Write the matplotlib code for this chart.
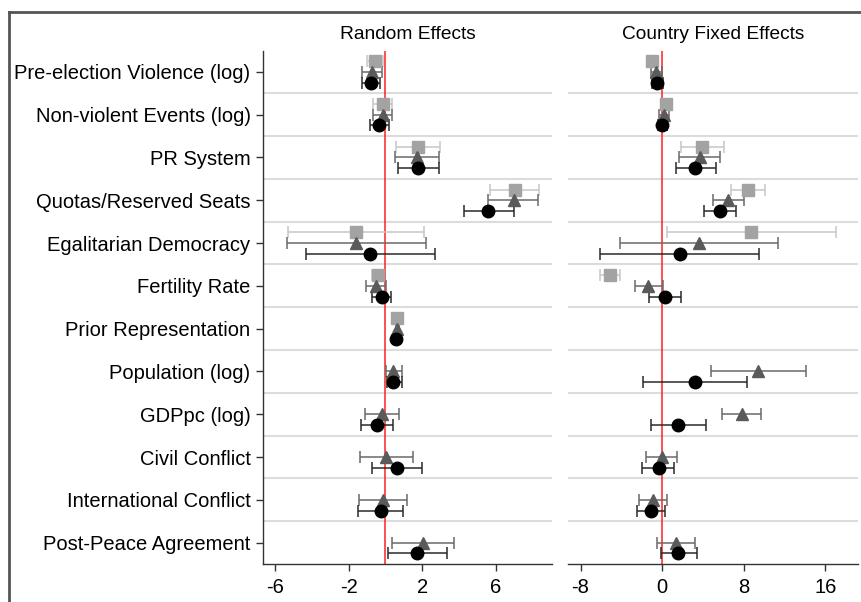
import numpy as np
import matplotlib
matplotlib.use("Agg")
import matplotlib.pyplot as plt
from matplotlib.lines import Line2D

plt.rcParams['font.family'] = ['Liberation Sans', 'DejaVu Sans']

nan = np.nan
categories = ["Pre-election Violence (log)", "Non-violent Events (log)", "PR System",
              "Quotas/Reserved Seats", "Egalitarian Democracy", "Fertility Rate",
              "Prior Representation", "Population (log)", "GDPpc (log)", "Civil Conflict",
              "International Conflict", "Post-Peace Agreement"]
panel_titles = ["Random Effects", "Country Fixed Effects"]

# Random effects
re_sq_est = [-0.56, -0.14, 1.76, 7.05, -1.59, -0.41, 0.65, nan, nan, nan, nan, nan]
re_sq_lo = [-1.01, -0.65, 0.56, 5.69, -5.30, -0.74, 0.56, nan, nan, nan, nan, nan]
re_sq_hi = [-0.11, 0.38, 2.97, 8.37, 2.12, -0.11, 0.74, nan, nan, nan, nan, nan]
re_tr_est = [-0.74, -0.14, 1.71, 6.96, -1.59, -0.52, 0.65, 0.40, -0.16, 0.04, -0.14, 2.03]
re_tr_lo = [-1.28, -0.69, 0.51, 5.60, -5.36, -1.05, 0.58, 0.02, -1.10, -1.38, -1.43, 0.38]
re_tr_hi = [-0.20, 0.38, 2.92, 8.28, 2.20, 0.04, 0.72, 0.89, 0.76, 1.52, 1.16, 3.73]
re_ci_est = [-0.78, -0.34, 1.79, 5.60, -0.83, -0.20, 0.58, 0.43, -0.47, 0.62, -0.25, 1.74]
re_ci_lo = [-1.28, -0.83, 0.67, 4.28, -4.33, -0.74, 0.50, 0.07, -1.34, -0.74, -1.50, 0.13]
re_ci_hi = [-0.29, 0.20, 2.92, 6.96, 2.70, 0.29, 0.66, 0.89, 0.43, 2.01, 0.98, 3.34]

# Country fixed effects
fe_sq_est = [-0.95, 0.36, 3.93, 8.39, 8.71, -5.14, nan, nan, nan, nan, nan, nan]
fe_sq_lo = [-1.38, -0.13, 1.80, 6.72, 0.43, -6.12, nan, nan, nan, nan, nan, nan]
fe_sq_hi = [-0.50, 0.85, 6.09, 10.06, 17.06, -4.09, nan, nan, nan, nan, nan, nan]
fe_tr_est = [-0.62, 0.20, 3.70, 6.48, 3.63, -1.37, nan, 9.43, 7.80, -0.06, -0.88, 1.35]
fe_tr_lo = [-1.14, -0.32, 1.67, 4.95, -4.16, -2.68, nan, 4.78, 5.86, -1.60, -2.29, -0.49]
fe_tr_hi = [-0.06, 0.69, 5.67, 8.05, 11.40, 0.04, nan, 14.09, 9.70, 1.47, 0.49, 3.21]
fe_ci_est = [-0.49, 0.00, 3.21, 5.67, 1.74, 0.27, nan, 3.21, 1.57, -0.35, -1.11, 1.57]
fe_ci_lo = [-0.98, -0.42, 1.32, 4.13, -6.05, -1.31, nan, -1.87, -1.14, -1.93, -2.42, -0.16]
fe_ci_hi = [0.04, 0.43, 5.25, 7.24, 9.50, 1.84, nan, 8.35, 4.26, 1.18, 0.27, 3.44]

re_ticks = [-6, -2, 2, 6]
fe_ticks = [-8, 0, 8, 16]

W, H = 862, 602
fig = plt.figure(figsize=(W / 100, H / 100), dpi=100)

bottom = (H - 564) / H
height = (564 - 50.5) / H
ax1 = fig.add_axes([263 / W, bottom, 289 / W, height])
ax2 = fig.add_axes([568 / W, bottom, 290 / W, height])

styles = [  # offset, marker, marker color, line color
    (-0.25, 's', '#a3a3a3', '#c6c6c6'),
    (0.0, '^', '#5a5a5a', '#6a6a6a'),
    (0.25, 'o', '#000000', '#2a2a2a'),
]

panels = [
    (ax1, [(re_sq_est, re_sq_lo, re_sq_hi), (re_tr_est, re_tr_lo, re_tr_hi), (re_ci_est, re_ci_lo, re_ci_hi)],
     (-6.65, 9.05), re_ticks),
    (ax2, [(fe_sq_est, fe_sq_lo, fe_sq_hi), (fe_tr_est, fe_tr_lo, fe_tr_hi), (fe_ci_est, fe_ci_lo, fe_ci_hi)],
     (-9.23, 19.2), fe_ticks),
]

n = len(categories)
ypos = np.arange(n)

for k, (ax, series, xlim, ticks) in enumerate(panels):
    for b in np.arange(0.5, n - 0.5, 1.0):
        ax.axhline(b, color='#dcdcdc', lw=1.5, zorder=1)
    ax.axvline(0, color='#ff2020', lw=1.1, zorder=2)
    for (est, lo, hi), (off, mk, mc, lc) in zip(series, styles):
        est = np.array(est); lo = np.array(lo); hi = np.array(hi)
        m = ~np.isnan(est)
        y = ypos[m] + off
        ax.errorbar(est[m], y, xerr=[est[m] - lo[m], hi[m] - est[m]], fmt='none',
                    ecolor=lc, elinewidth=1.1, capsize=4.3, capthick=1.1, zorder=3)
        ax.plot(est[m], y, linestyle='none', marker=mk, ms=9, color=mc,
                markeredgecolor=mc, zorder=4)
    ax.set_xlim(*xlim)
    ax.set_ylim(n - 0.5, -0.5)
    ax.set_xticks(ticks)
    ax.set_xticklabels([str(t) for t in ticks])
    ax.tick_params(axis='x', length=5, width=1, pad=5, labelsize=14.5, color='#333333')
    ax.spines['top'].set_visible(False)
    ax.spines['right'].set_visible(False)
    ax.spines['bottom'].set_color('#333333')
    ax.spines['bottom'].set_linewidth(1)
    ax.set_title(panel_titles[k], fontsize=13.8, pad=8)
    if k == 0:
        ax.set_yticks(ypos)
        ax.set_yticklabels(categories)
        ax.tick_params(axis='y', length=5, width=1, pad=4, labelsize=14.5, color='#333333')
        ax.spines['left'].set_color('#333333')
        ax.spines['left'].set_linewidth(1)
    else:
        ax.set_yticks([])
        ax.spines['left'].set_visible(False)

# outer frame (left and top edges visible)
fx = 9 / W
fy = 1 - 11.5 / H
fig.add_artist(Line2D([fx, fx], [-0.01, fy], transform=fig.transFigure, color='#555555', lw=2))
fig.add_artist(Line2D([fx, 1.01], [fy, fy], transform=fig.transFigure, color='#555555', lw=2))

fig.savefig("out.png", dpi=100)
